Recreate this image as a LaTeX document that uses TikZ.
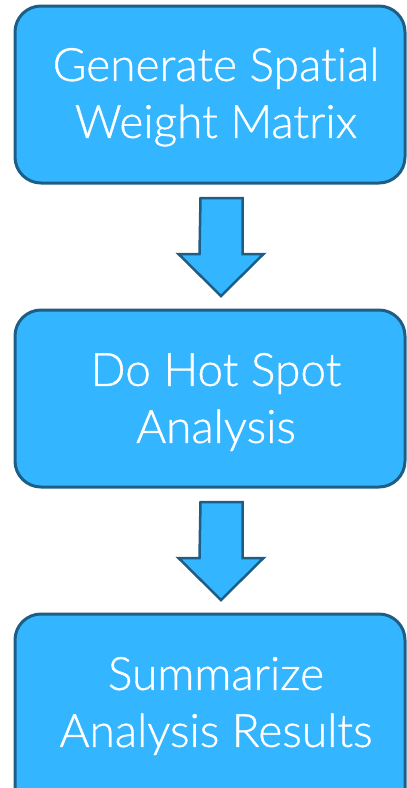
\documentclass[tikz,border=0pt]{standalone}
\usepackage{fontspec}
\setmainfont{Lato Light}[Ligatures=NoCommon,UprightFeatures={FakeBold=0.8}]
\definecolor{boxfill}{HTML}{33B5FF}
\definecolor{boxline}{HTML}{1E5E85}
\begin{document}
\begin{tikzpicture}[x=1pt,y=1pt,
  box/.style={draw=boxline,fill=boxfill,line width=3pt,rounded corners=26pt},
  lbl/.style={text=white,font=\fontsize{46}{57}\selectfont,align=center,inner sep=0pt},
  blockarrow/.style={draw=boxline,fill=boxfill,line width=2.5pt,line join=miter}]
\useasboundingbox (0,0) rectangle (407,-788);
\begin{scope}
\clip (0,0) rectangle (407,-788);
\draw[box] (15,-6) rectangle (405,-183);
\draw[box] (15,-310) rectangle (405,-487);
\draw[box] (15,-614) rectangle (405,-830);
\node[lbl] (t1) at (216,-97) {Generate Spatial\\Weight Matrix};
\node[lbl] (t2) at (216,-402) {Do Hot Spot\\Analysis};
\node[lbl] (t3) at (216,-706) {Summarize\\Analysis Results};
\coordinate (a1) at (221.5,-198);
\coordinate (a2) at (221.5,-502);
\foreach \a in {a1,a2}{
  \draw[blockarrow] (\a) ++(-21,0) -- ++(42,0) -- ++(0,-56) -- ++(21,0)
     -- ++(-42.5,-42) -- ++(-42.5,42) -- ++(21,0) -- cycle;
}
\end{scope}
\end{tikzpicture}
\end{document}
